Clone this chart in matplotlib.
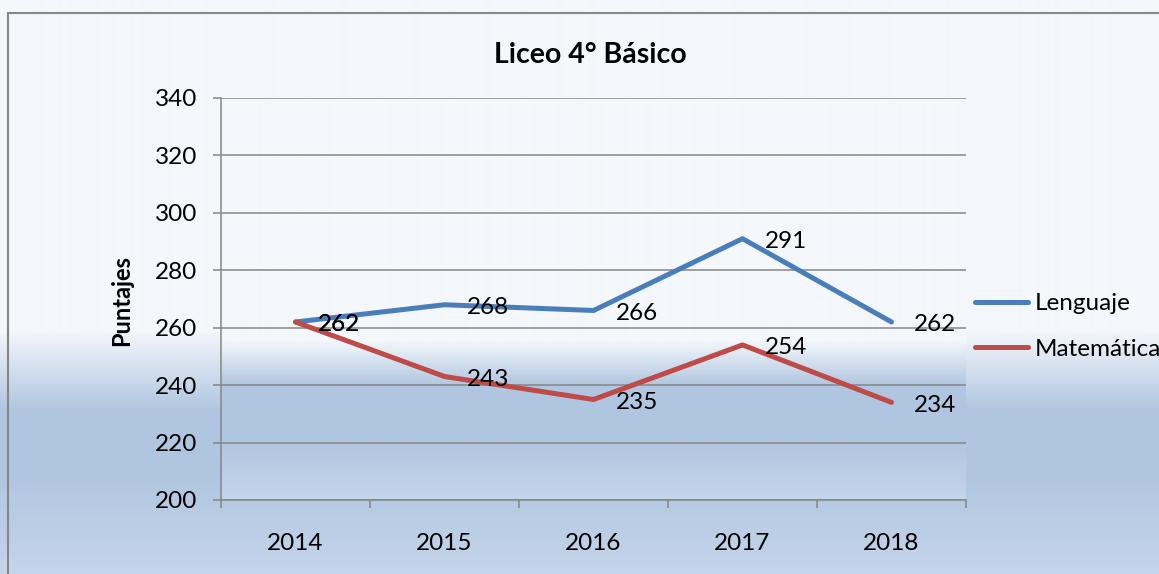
import numpy as np
import matplotlib
matplotlib.use("Agg")
import matplotlib.pyplot as plt
from matplotlib.patches import Rectangle

plt.rcParams['font.family'] = ['Lato', 'DejaVu Sans']

years = ["2014", "2015", "2016", "2017", "2018"]
lenguaje = [262, 268, 266, 291, 262]
matematica = [262, 243, 235, 254, 234]
series_names = ["Lenguaje", "Matemática"]
colors = ["#4a7ebb", "#be4b48"]

W, H = 1159, 574
light = np.array([244, 247, 251]) / 255
blue = np.array([176, 198, 224]) / 255
pale = np.array([197, 213, 234]) / 255


def gradient(y_top, y_bot, stops):
  # stops: list of (pixel_y, color)
  ys = np.arange(y_top, y_bot)
  py = [s[0] for s in stops]
  img = np.zeros((len(ys), 1, 3))
  for c in range(3):
    img[:, 0, c] = np.interp(ys, py, [s[1][c] for s in stops])
  return img


fig = plt.figure(figsize=(W / 100, H / 100), dpi=100)

# chart area background
bg = fig.add_axes([0, 0, 1, 1], zorder=-1)
bg.axis("off")
bg_img = gradient(0, H, [(0, light), (330, light), (410, blue), (475, blue), (574, pale)])
bg.imshow(bg_img, extent=(0, 1, 0, 1), aspect="auto", interpolation="bilinear")
bg.set_xlim(0, 1)
bg.set_ylim(0, 1)
fig.patches.append(Rectangle((8 / W, -0.1), 1.2, 1.1 - 13 / H, transform=fig.transFigure,
                             fill=False, edgecolor="#868686", linewidth=1.5))

left, right, top, bottom = 221, 966, 98, 500
ax = fig.add_axes([left / W, 1 - bottom / H, (right - left) / W, (bottom - top) / H])
ax.patch.set_visible(False)
pa_img = gradient(top, bottom, [(98, light), (340, light), (385, blue), (440, blue), (500, pale)])
ax.imshow(pa_img, extent=(-0.5, 4.5, 200, 340), aspect="auto", interpolation="bilinear", zorder=0)

x = np.arange(len(years))
for vals, name, col in zip([lenguaje, matematica], series_names, colors):
  ax.plot(x, vals, color=col, linewidth=3.6, label=name, solid_capstyle="round", zorder=3)
  for xi, v in zip(x, vals):
    ax.annotate(str(v), (xi, v), xytext=(16, -2), textcoords="offset points",
                ha="left", va="center", fontsize=17.5, zorder=4)

ax.set_xlim(-0.5, 4.5)
ax.set_ylim(200, 340)
ax.set_yticks(np.arange(200, 341, 20))
ax.set_xticks(x)
ax.set_xticklabels(years)
ax.set_xticks(np.arange(-0.5, 4.6, 1), minor=True)
ax.tick_params(axis="x", which="major", length=0, pad=24, labelsize=17.5)
ax.tick_params(axis="x", which="minor", length=6, width=1.1, color="#868686")
ax.tick_params(axis="y", length=6, width=1.1, color="#868686", pad=11, labelsize=17.5)
ax.grid(axis="y", color="#868686", linewidth=1.1)
ax.set_axisbelow(True)
for s in ["top", "right"]:
  ax.spines[s].set_visible(False)
for s in ["left", "bottom"]:
  ax.spines[s].set_color("#868686")
  ax.spines[s].set_linewidth(1.1)

fig.text(590 / W, 1 - 55 / H, "Liceo 4° Básico", ha="center", va="center",
         fontsize=20.5, fontweight="bold")
fig.text(122 / W, 1 - 300 / H, "Puntajes", ha="center", va="center",
         rotation=90, fontsize=17, fontweight="bold")

fig.legend(loc="center left", bbox_to_anchor=(975 / W, 1 - 326.5 / H), frameon=False,
           fontsize=17.5, handlelength=2.2, handletextpad=0.25, labelspacing=1.0,
           borderpad=0, borderaxespad=0)

fig.savefig("out.png", dpi=100)
